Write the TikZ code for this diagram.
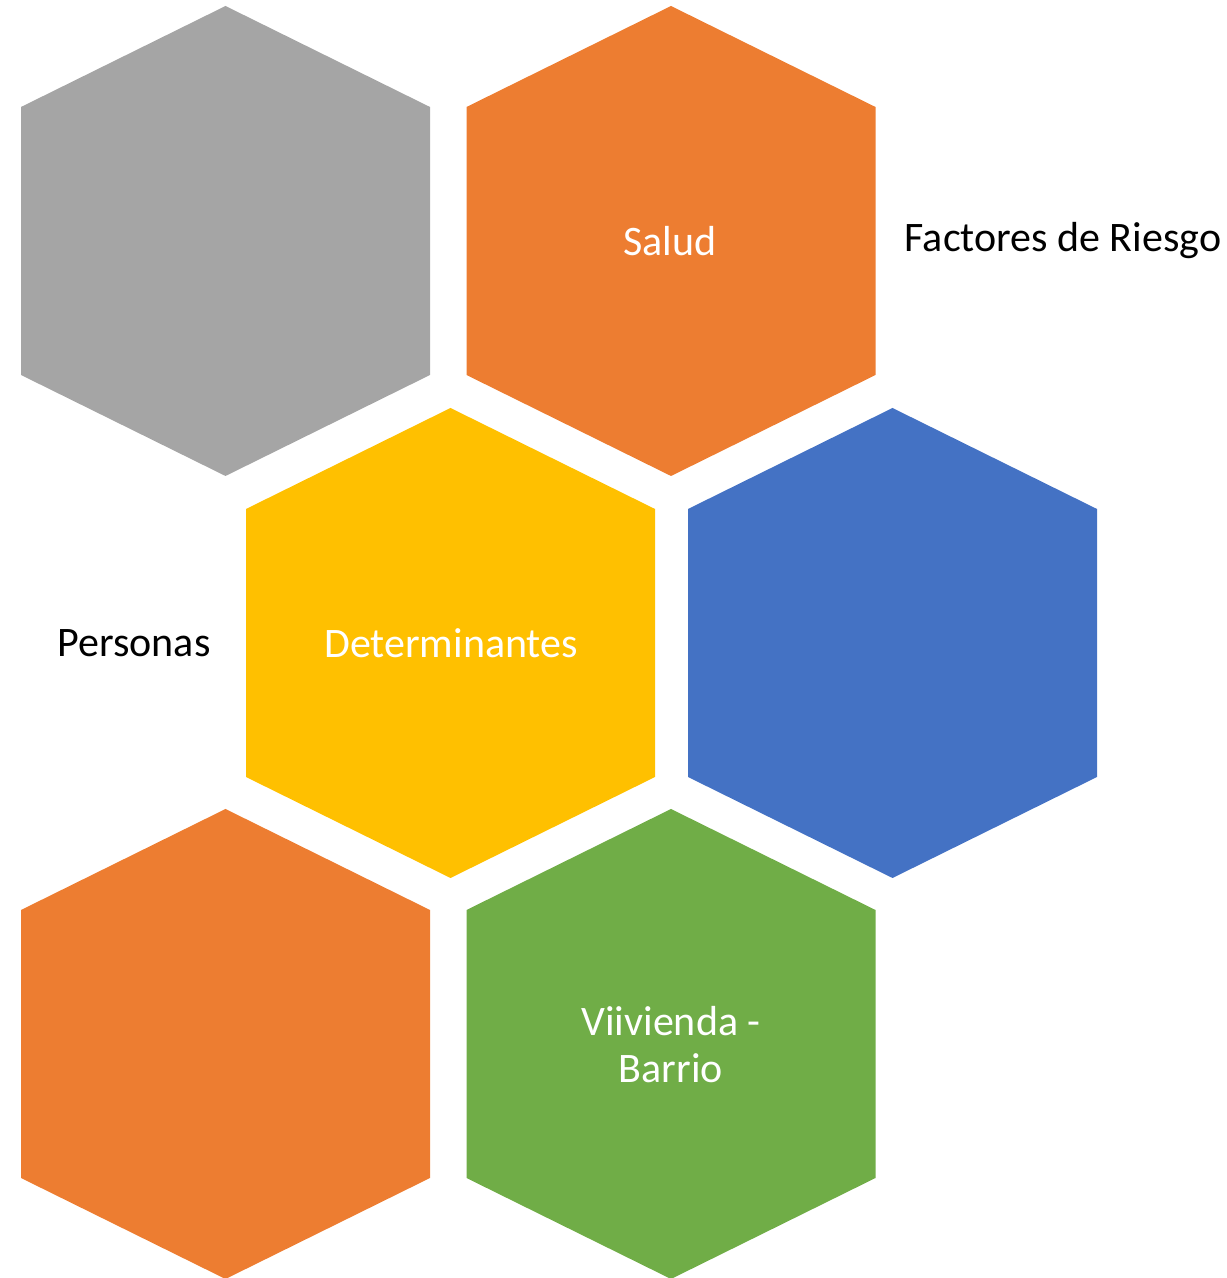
\documentclass[tikz,border=0pt]{standalone}
\usepackage{fontspec}
\setmainfont{Carlito}
\definecolor{hgray}{HTML}{A5A5A5}
\definecolor{horange}{HTML}{ED7D31}
\definecolor{hyellow}{HTML}{FFC000}
\definecolor{hblue}{HTML}{4472C4}
\definecolor{hgreen}{HTML}{70AD47}
\newcommand\hexfill[2]{\fill[#2] (#1) ++(0,235) -- ++(204.5,-101) -- ++(0,-268) -- ++(-204.5,-101) -- ++(-204.5,101) -- ++(0,268) -- cycle;}
\begin{document}
\begin{tikzpicture}[x=1pt,y=1pt,
  hexlabel/.style={text=white,font=\fontsize{42}{47}\selectfont,align=center,inner sep=0pt},
  sidelabel/.style={text=black,font=\fontsize{42}{47}\selectfont,inner sep=0pt}]
\useasboundingbox (0,0) rectangle (1227,1278);
\coordinate (cgray) at (225.5,1037);
\coordinate (corange) at (671,1037);
\coordinate (cyellow) at (450.5,635);
\coordinate (cblue) at (892.5,635);
\coordinate (corange2) at (225.5,234);
\coordinate (cgreen) at (671,234);
\hexfill{cgray}{hgray}
\hexfill{corange}{horange}
\hexfill{cyellow}{hyellow}
\hexfill{cblue}{hblue}
\hexfill{corange2}{horange}
\hexfill{cgreen}{hgreen}
\node[hexlabel] (salud) at (670,1037) {Salud};
\node[hexlabel] (det) at (451,635) {Determinantes};
\node[hexlabel] (viv) at (671,233) {Viivienda -\\Barrio};
\node[sidelabel] (fr) at (1063,1037) {Factores de Riesgo};
\node[sidelabel] (per) at (134,635) {Personas};
\end{tikzpicture}
\end{document}
